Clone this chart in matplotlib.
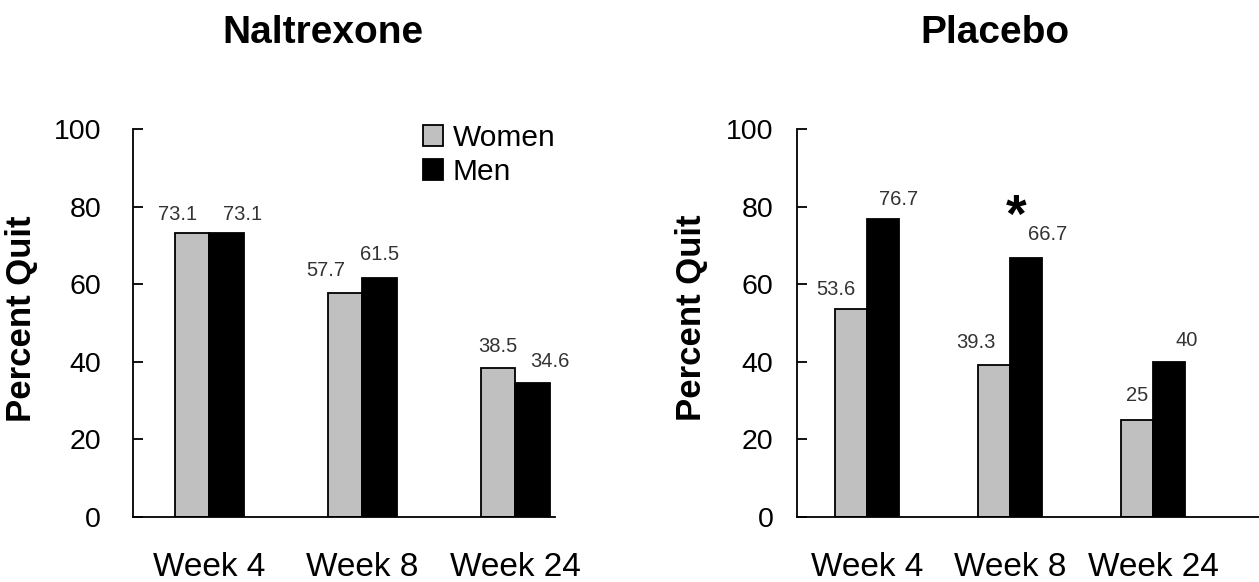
import matplotlib
matplotlib.use('Agg')
import matplotlib.pyplot as plt
from matplotlib.patches import Patch
import numpy as np

plt.rcParams['font.family'] = ['Liberation Sans', 'DejaVu Sans']

weeks = ['Week 4', 'Week 8', 'Week 24']
naltrexone_women = [73.1, 57.7, 38.5]
naltrexone_men = [73.1, 61.5, 34.6]
placebo_women = [53.6, 39.3, 25]
placebo_men = [76.7, 66.7, 40]
placebo_men_labels = ['76.7', '66.7', '40']
placebo_women_labels = ['53.6', '39.3', '25']

women_color = '#c0c0c0'
men_color = 'black'
W, H = 1259, 582

fig = plt.figure(figsize=(W / 100, H / 100), dpi=100)

# axes in pixel layout (left, right, bottom at y=0, top at y=100)
ax1 = fig.add_axes([133 / W, (H - 517) / H, (555 - 133) / W, (517 - 129) / H])
ax2 = fig.add_axes([797 / W, (H - 517) / H, (1259 - 797) / W, (517 - 129) / H])

x = np.arange(len(weeks))


def draw_panel(ax, women, men, width, xlim, women_off, men_off, labpad, women_txt=None, men_txt=None):
    bw = ax.bar(x - width / 2, women, width, color=women_color, edgecolor='black', linewidth=1.3, zorder=3)
    bm = ax.bar(x + width / 2, men, width, color=men_color, edgecolor='black', linewidth=1.3, zorder=3)
    ax.set_xlim(*xlim)
    ax.set_ylim(0, 100)
    ax.set_yticks([0, 20, 40, 60, 80, 100])
    ax.set_xticks(x)
    ax.set_xticklabels(weeks, fontsize=24)
    ax.tick_params(axis='x', length=0, pad=25)
    ax.tick_params(axis='y', direction='in', length=7, width=1.3, labelsize=20.5, pad=labpad)
    for s in ['top', 'right']:
        ax.spines[s].set_visible(False)
    for s in ['left', 'bottom']:
        ax.spines[s].set_linewidth(1.3)
    ax.spines['bottom'].set_zorder(4)
    if women_txt is None:
        women_txt = [f'{v:g}' for v in women]
    if men_txt is None:
        men_txt = [f'{v:g}' for v in men]
    for i, r in enumerate(bw):
        ax.annotate(women_txt[i], (r.get_x() + r.get_width() / 2, r.get_height()),
                    xytext=(women_off[i][0], women_off[i][1]), textcoords='offset pixels',
                    ha='center', va='bottom', fontsize=14.5, color='#333333')
    for i, r in enumerate(bm):
        ax.annotate(men_txt[i], (r.get_x() + r.get_width() / 2, r.get_height()),
                    xytext=(men_off[i][0], men_off[i][1]), textcoords='offset pixels',
                    ha='center', va='bottom', fontsize=14.5, color='#333333')


draw_panel(ax1, naltrexone_women, naltrexone_men, 0.225, (-0.5, 2.26),
           [(-15, 9), (-19, 13), (0, 12)], [(16, 9), (0, 14), (17, 12)], 23)
draw_panel(ax2, placebo_women, placebo_men, 0.225, (-0.49, 2.74),
           [(-15, 10), (-18, 13), (0, 15)], [(15, 10), (21, 14), (17, 12)], 17,
           placebo_women_labels, placebo_men_labels)

# significance marker
ax2.text(1.04, 77, '*', ha='center', va='center', fontsize=38, fontweight='bold')

fig.text(323 / W, (H - 43) / H, 'Naltrexone', ha='center', va='baseline', fontsize=28, fontweight='bold')
fig.text(995 / W, (H - 43) / H, 'Placebo', ha='center', va='baseline', fontsize=28, fontweight='bold')
fig.text(22 / W, (H - 319) / H, 'Percent Quit', ha='center', va='center', rotation=90,
         fontsize=25, fontweight='bold')
fig.text(692 / W, (H - 318) / H, 'Percent Quit', ha='center', va='center', rotation=90,
         fontsize=25, fontweight='bold')

handles = [Patch(facecolor=women_color, edgecolor='black', linewidth=1.3, label='Women'),
           Patch(facecolor=men_color, edgecolor='black', linewidth=1.3, label='Men')]
ax1.legend(handles=handles, loc='upper left', bbox_to_anchor=(423 / W, (H - 124) / H),
           bbox_transform=fig.transFigure, frameon=False, fontsize=21.5, handlelength=0.66,
           handleheight=0.66, handletextpad=0.34, labelspacing=0.2, borderpad=0, borderaxespad=0)

fig.savefig('out.png', dpi=100)
